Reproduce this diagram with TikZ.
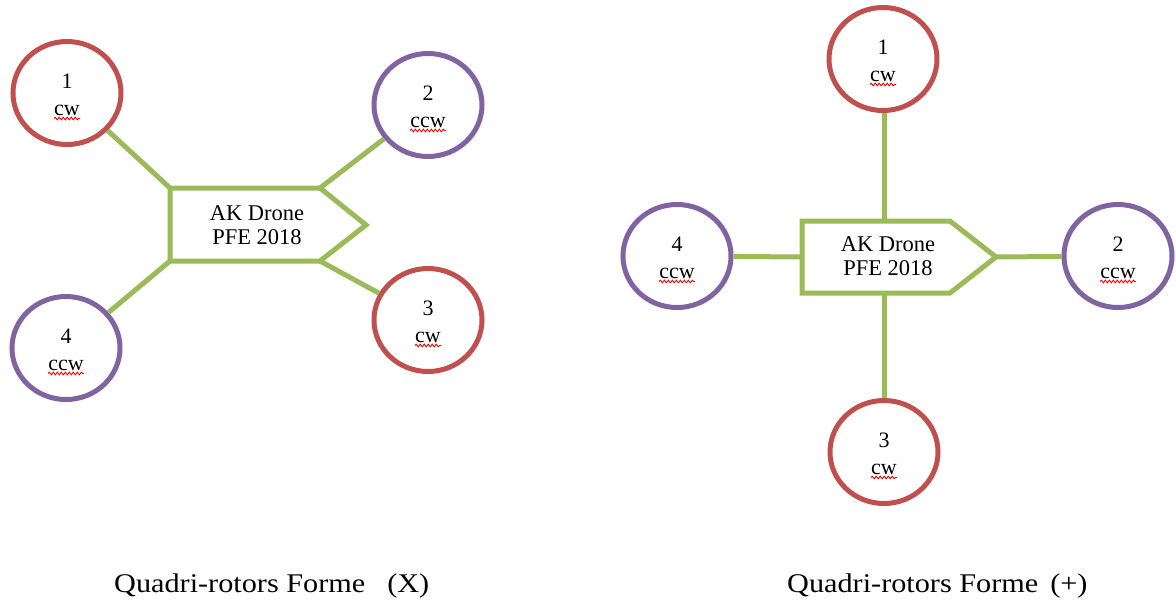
\documentclass[tikz,border=0pt]{standalone}
\usepackage{fontspec}
\setmainfont{Liberation Serif}
\newfontfamily\captionfont[FakeStretch=1.12]{Liberation Serif}
\usetikzlibrary{decorations.pathmorphing,shapes.geometric}

\definecolor{rotorred}{RGB}{192,80,77}
\definecolor{rotorpurple}{RGB}{128,100,162}
\definecolor{armgreen}{RGB}{155,187,89}

\tikzset{
  rotor/.style={ellipse, draw, line width=5pt, minimum width=108pt, minimum height=103pt, inner sep=0pt},
  cwrotor/.style={rotor, draw=rotorred},
  ccwrotor/.style={rotor, draw=rotorpurple},
  arm/.style={draw=armgreen, line width=5pt},
  body/.style={draw=armgreen, line width=5pt, line join=miter, fill=white},
  lbl/.style={font=\fontsize{22}{26}\selectfont, inner sep=0pt},
  bodytext/.style={font=\fontsize{22.5}{24}\selectfont, align=center, inner sep=0pt},
  caption/.style={font=\captionfont\fontsize{27}{30}\selectfont, inner sep=0pt, anchor=base west},
  spell/.style={draw=red, line width=0.9pt, decorate, decoration={snake, amplitude=1.3pt, segment length=4pt}},
}

% rotor: name, style, x, y, number, direction
\newcommand\drawrotor[6]{%
  \node[#2] (#1) at (#3,#4) {};
  \node[lbl] (#1n) at (#3,#4-12) {#5};
  \node[lbl] (#1d) at (#3,#4+17) {#6};
  \draw[spell] ([yshift=-3pt]#1d.south west) -- ([yshift=-3pt]#1d.south east);
}

\begin{document}
\begin{tikzpicture}[x=1pt,y=-1pt]
\useasboundingbox (0,0) rectangle (1176,606);

% ---------- X configuration ----------
\coordinate (Lnw) at (170,188);
\coordinate (Lne) at (320,188);
\coordinate (Ltip) at (366,225);
\coordinate (Lse) at (320,261);
\coordinate (Lsw) at (170,261);

\drawrotor{L1}{cwrotor}{67}{93}{1}{cw}
\drawrotor{L2}{ccwrotor}{428}{105}{2}{ccw}
\drawrotor{L3}{cwrotor}{428}{320}{3}{cw}
\drawrotor{L4}{ccwrotor}{66}{348}{4}{ccw}

\draw[arm] (L1) -- (Lnw);
\draw[arm] (L2) -- (Lne);
\draw[arm] (L3) -- (Lse);
\draw[arm] (L4) -- (Lsw);

\draw[body] (Lnw) -- (Lne) -- (Ltip) -- (Lse) -- (Lsw) -- cycle;
\node[bodytext] (LB) at (257,225) {AK Drone\\PFE 2018};

% ---------- + configuration ----------
\coordinate (Rnw) at (802,221);
\coordinate (Rne) at (950,221);
\coordinate (Rtip) at (996,257);
\coordinate (Rse) at (950,293);
\coordinate (Rsw) at (802,293);
\coordinate (Rtop) at (884,221);
\coordinate (Rbot) at (884,293);
\coordinate (Rleft) at (802,257);

\drawrotor{R1}{cwrotor}{883}{59}{1}{cw}
\drawrotor{R2}{ccwrotor}{1118}{256}{2}{ccw}
\drawrotor{R3}{cwrotor}{884}{452}{3}{cw}
\drawrotor{R4}{ccwrotor}{677}{256}{4}{ccw}

\draw[arm] (R1.south -| Rtop) -- (Rtop);
\draw[arm] (Rbot) -- (R3.north -| Rbot);
\draw[arm] (R4) -- (Rleft);
\draw[arm] (Rtip) -- (R2);

\draw[body] (Rnw) -- (Rne) -- (Rtip) -- (Rse) -- (Rsw) -- cycle;
\node[bodytext] (RB) at (888,256) {AK Drone\\PFE 2018};

% ---------- captions ----------
\node[caption] (capX) at (114,592) {Quadri-rotors Forme\hspace{22pt}(X)};
\node[caption] (capP) at (787,592) {Quadri-rotors Forme\hspace{12pt}(+)};
\end{tikzpicture}
\end{document}
